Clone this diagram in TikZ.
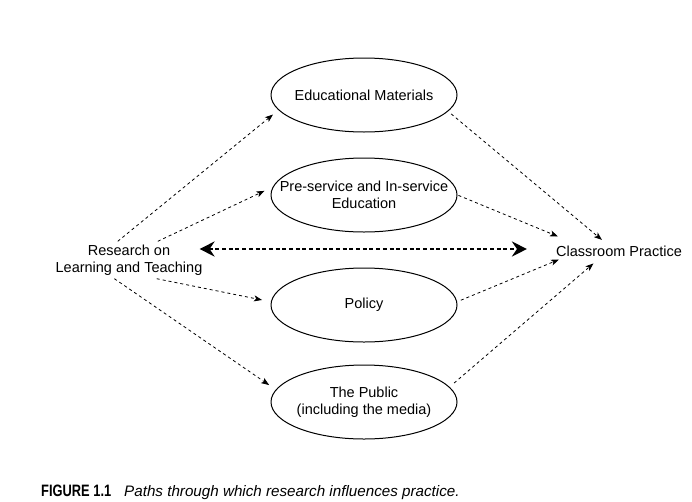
\documentclass[tikz,border=0pt]{standalone}
\usepackage{fontspec}
\setmainfont{Liberation Sans}
\newfontfamily\figlabelfont[FakeStretch=0.78]{Liberation Sans}
\usepackage{xcolor}
\usepackage{tikz}
\usetikzlibrary{arrows.meta, shapes.geometric}
\definecolor{inkColor}{HTML}{000000}

\begin{document}
\begin{tikzpicture}[x=1pt, y=-1pt,
    every node/.style={font=\fontsize{14.5}{17.5}\selectfont, align=center, text=inkColor},
    topic/.style={draw=inkColor, line width=1pt, ellipse, minimum width=186pt, minimum height=74pt,
        inner xsep=-25pt, inner ysep=0pt},
    route/.style={draw=inkColor, line width=0.8pt, dash pattern=on 3pt off 3pt,
        -{Stealth[length=8pt, width=6pt, inset=2pt]}},
    link/.style={draw=inkColor, line width=2.6pt, dash pattern=on 4pt off 2.7pt,
        {Stealth[length=15pt, width=15pt, inset=5pt]}-{Stealth[length=15pt, width=15pt, inset=5pt]}}]
    \useasboundingbox (0,0) rectangle (692,501);

    % the two ends
    \node[inner sep=3pt] (res) at (129,260) {Research on\\Learning and Teaching};
    \node[inner sep=3pt] (cp) at (619,251) {Classroom Practice};

    % the four paths
    \node[topic] (edu) at (364,95) {Educational Materials};
    \node[topic] (pre) at (364,195) {Pre-service and In-service\\Education};
    \node[topic] (pol) at (364,305) {Policy};
    \node[topic] (pub) at (364,402) {The Public\\(including the media)};

    \draw[link, shorten <=-6pt, shorten >=26pt] ([yshift=11pt]res.east) -- ([yshift=2pt]cp.west);

    \draw[route, shorten >=7pt] (res.121) -- (edu.190);
    \draw[route, shorten >=9pt] (res.33) -- (pre.175);
    \draw[route, shorten >=9pt] (res.-34) -- (pol.178);
    \draw[route, shorten >=8pt] (res.232) -- (pub.172);

    \draw[route, shorten <=4pt, shorten >=4pt] (edu.-11) -- ([xshift=-14pt]cp.north);
    \draw[route, shorten <=1pt] (pre.0) -- ([xshift=5pt, yshift=6pt]cp.north west);
    \draw[route, shorten <=4pt] (pol.2) -- ([xshift=6pt]cp.south west);
    \draw[route, shorten <=6pt, shorten >=6pt] (pub.10) -- ([xshift=-21pt]cp.south);

    % caption
    \node[anchor=base west, inner sep=0pt, font=\figlabelfont\bfseries\fontsize{16.5}{18}\selectfont]
        (figlabel) at (41,496) {FIGURE 1.1};
    \node[anchor=base west, inner sep=0pt, font=\itshape\fontsize{15.2}{18}\selectfont]
        (figtext) at (124,496) {Paths through which research influences practice.};
\end{tikzpicture}
\end{document}
